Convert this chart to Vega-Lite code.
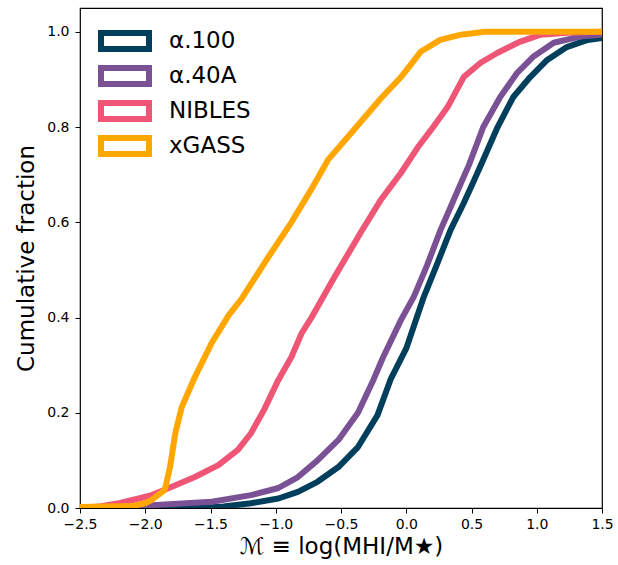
{
  "$schema": "https://vega.github.io/schema/vega-lite/v6.json",
  "width": 522,
  "height": 500,
  "autosize": "none",
  "padding": {"left": 80, "top": 8, "right": 16, "bottom": 57},
  "background": "white",
  "config": {
    "font": "DejaVu Sans",
    "view": {"stroke": "#000000", "strokeWidth": 1.2},
    "axis": {"grid": false, "domain": false, "tickColor": "#000000", "tickSize": 5, "tickWidth": 1, "labelColor": "#000000", "labelFontSize": 14, "labelFont": "DejaVu Sans", "titleColor": "#000000", "titleFont": "DejaVu Sans", "titleFontSize": 23, "titleFontWeight": "normal"}
  },
  "data": {
    "values": [
      {"series": "α.100", "x": -2.5, "y": 0},
      {"series": "α.100", "x": -1.6, "y": 0},
      {"series": "α.100", "x": -1.4, "y": 0.003},
      {"series": "α.100", "x": -1.19, "y": 0.01},
      {"series": "α.100", "x": -0.98, "y": 0.02},
      {"series": "α.100", "x": -0.83, "y": 0.034},
      {"series": "α.100", "x": -0.68, "y": 0.055},
      {"series": "α.100", "x": -0.52, "y": 0.086},
      {"series": "α.100", "x": -0.37, "y": 0.128},
      {"series": "α.100", "x": -0.22, "y": 0.195},
      {"series": "α.100", "x": -0.12, "y": 0.27},
      {"series": "α.100", "x": 0.0, "y": 0.335},
      {"series": "α.100", "x": 0.13, "y": 0.44},
      {"series": "α.100", "x": 0.24, "y": 0.515},
      {"series": "α.100", "x": 0.34, "y": 0.584},
      {"series": "α.100", "x": 0.44, "y": 0.64},
      {"series": "α.100", "x": 0.515, "y": 0.685},
      {"series": "α.100", "x": 0.58, "y": 0.725},
      {"series": "α.100", "x": 0.7, "y": 0.8},
      {"series": "α.100", "x": 0.82, "y": 0.863},
      {"series": "α.100", "x": 0.95, "y": 0.905},
      {"series": "α.100", "x": 1.08, "y": 0.941},
      {"series": "α.100", "x": 1.23, "y": 0.968},
      {"series": "α.100", "x": 1.39, "y": 0.983},
      {"series": "α.100", "x": 1.5, "y": 0.987},
      {"series": "α.40A", "x": -2.5, "y": 0},
      {"series": "α.40A", "x": -2.2, "y": 0.002},
      {"series": "α.40A", "x": -1.95, "y": 0.006},
      {"series": "α.40A", "x": -1.49, "y": 0.013},
      {"series": "α.40A", "x": -1.19, "y": 0.027},
      {"series": "α.40A", "x": -0.98, "y": 0.042},
      {"series": "α.40A", "x": -0.83, "y": 0.065},
      {"series": "α.40A", "x": -0.68, "y": 0.1},
      {"series": "α.40A", "x": -0.52, "y": 0.143},
      {"series": "α.40A", "x": -0.37, "y": 0.2},
      {"series": "α.40A", "x": -0.25, "y": 0.27},
      {"series": "α.40A", "x": -0.18, "y": 0.315},
      {"series": "α.40A", "x": -0.04, "y": 0.395},
      {"series": "α.40A", "x": 0.057, "y": 0.443},
      {"series": "α.40A", "x": 0.16, "y": 0.51},
      {"series": "α.40A", "x": 0.263, "y": 0.584},
      {"series": "α.40A", "x": 0.34, "y": 0.632},
      {"series": "α.40A", "x": 0.43, "y": 0.689},
      {"series": "α.40A", "x": 0.48, "y": 0.72},
      {"series": "α.40A", "x": 0.59, "y": 0.8},
      {"series": "α.40A", "x": 0.72, "y": 0.863},
      {"series": "α.40A", "x": 0.85, "y": 0.914},
      {"series": "α.40A", "x": 0.97, "y": 0.947},
      {"series": "α.40A", "x": 1.13, "y": 0.977},
      {"series": "α.40A", "x": 1.33, "y": 0.99},
      {"series": "α.40A", "x": 1.5, "y": 0.994},
      {"series": "NIBLES", "x": -2.5, "y": 0},
      {"series": "NIBLES", "x": -2.35, "y": 0.003},
      {"series": "NIBLES", "x": -2.2, "y": 0.01},
      {"series": "NIBLES", "x": -2.05, "y": 0.02},
      {"series": "NIBLES", "x": -1.95, "y": 0.027},
      {"series": "NIBLES", "x": -1.8, "y": 0.044},
      {"series": "NIBLES", "x": -1.62, "y": 0.065},
      {"series": "NIBLES", "x": -1.44, "y": 0.09},
      {"series": "NIBLES", "x": -1.29, "y": 0.122},
      {"series": "NIBLES", "x": -1.19, "y": 0.157},
      {"series": "NIBLES", "x": -1.09, "y": 0.206},
      {"series": "NIBLES", "x": -0.98, "y": 0.269},
      {"series": "NIBLES", "x": -0.88, "y": 0.317},
      {"series": "NIBLES", "x": -0.8, "y": 0.368},
      {"series": "NIBLES", "x": -0.73, "y": 0.398},
      {"series": "NIBLES", "x": -0.65, "y": 0.437},
      {"series": "NIBLES", "x": -0.55, "y": 0.485},
      {"series": "NIBLES", "x": -0.35, "y": 0.578},
      {"series": "NIBLES", "x": -0.195, "y": 0.647},
      {"series": "NIBLES", "x": -0.04, "y": 0.704},
      {"series": "NIBLES", "x": 0.09, "y": 0.758},
      {"series": "NIBLES", "x": 0.19, "y": 0.794},
      {"series": "NIBLES", "x": 0.317, "y": 0.842},
      {"series": "NIBLES", "x": 0.44, "y": 0.905},
      {"series": "NIBLES", "x": 0.57, "y": 0.935},
      {"series": "NIBLES", "x": 0.7, "y": 0.956},
      {"series": "NIBLES", "x": 0.87, "y": 0.979},
      {"series": "NIBLES", "x": 1.03, "y": 0.994},
      {"series": "NIBLES", "x": 1.23, "y": 0.998},
      {"series": "NIBLES", "x": 1.5, "y": 1.0},
      {"series": "xGASS", "x": -2.5, "y": 0.002},
      {"series": "xGASS", "x": -2.1, "y": 0.004},
      {"series": "xGASS", "x": -2.0, "y": 0.01},
      {"series": "xGASS", "x": -1.95, "y": 0.017},
      {"series": "xGASS", "x": -1.85, "y": 0.038},
      {"series": "xGASS", "x": -1.81, "y": 0.086},
      {"series": "xGASS", "x": -1.77, "y": 0.157},
      {"series": "xGASS", "x": -1.72, "y": 0.212},
      {"series": "xGASS", "x": -1.62, "y": 0.275},
      {"series": "xGASS", "x": -1.49, "y": 0.347},
      {"series": "xGASS", "x": -1.36, "y": 0.405},
      {"series": "xGASS", "x": -1.26, "y": 0.44},
      {"series": "xGASS", "x": -1.057, "y": 0.527},
      {"series": "xGASS", "x": -0.88, "y": 0.6},
      {"series": "xGASS", "x": -0.73, "y": 0.668},
      {"series": "xGASS", "x": -0.6, "y": 0.731},
      {"series": "xGASS", "x": -0.42, "y": 0.788},
      {"series": "xGASS", "x": -0.195, "y": 0.86},
      {"series": "xGASS", "x": -0.04, "y": 0.905},
      {"series": "xGASS", "x": 0.11, "y": 0.958},
      {"series": "xGASS", "x": 0.26, "y": 0.983},
      {"series": "xGASS", "x": 0.42, "y": 0.994},
      {"series": "xGASS", "x": 0.6, "y": 1.0},
      {"series": "xGASS", "x": 1.5, "y": 1.0}
    ]
  },
  "mark": {"type": "line", "strokeWidth": 6, "clip": true, "strokeJoin": "round"},
  "encoding": {
    "x": {
      "field": "x", "type": "quantitative",
      "scale": {"domain": [-2.5, 1.5], "nice": false, "zero": false},
      "axis": {"values": [-2.5, -2.0, -1.5, -1.0, -0.5, 0.0, 0.5, 1.0, 1.5], "format": ".1f", "labelPadding": 4, "titlePadding": 4, "title": "ℳ ≡ log(MHI/M★)", "labelFlush": false}
    },
    "y": {
      "field": "y", "type": "quantitative",
      "scale": {"domain": [0, 1.05], "nice": false},
      "axis": {"values": [0, 0.2, 0.4, 0.6, 0.8, 1.0], "format": ".1f", "labelPadding": 6, "titlePadding": 8, "title": "Cumulative fraction", "labelFlush": false}
    },
    "color": {
      "field": "series", "type": "nominal",
      "scale": {"domain": ["α.100", "α.40A", "NIBLES", "xGASS"], "range": ["#003f5c", "#7a5195", "#ef5675", "#ffa600"]},
      "legend": {
        "title": null, "orient": "none", "legendX": 15, "legendY": 18,
        "symbolType": "M-0.75,-0.667L3.25,-0.667L3.25,0.667L-0.75,0.667Z",
        "symbolSize": 576, "symbolStrokeWidth": 6, "symbolFillColor": "white",
        "labelFontSize": 23, "labelFont": "DejaVu Sans", "labelColor": "#000000",
        "labelOffset": 44, "rowPadding": 5, "clipHeight": 30
      }
    },
    "order": {"field": "x", "type": "quantitative"}
  }
}
